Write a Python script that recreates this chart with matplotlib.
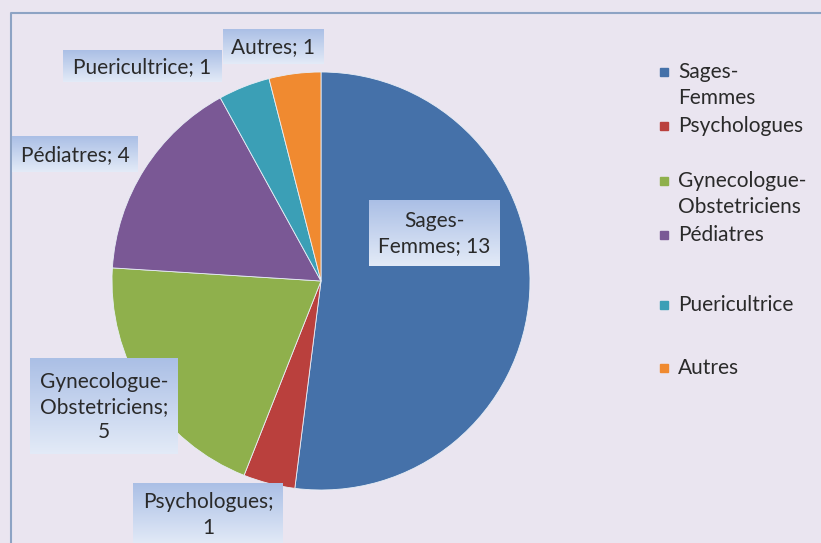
import numpy as np
import matplotlib
matplotlib.use('Agg')
import matplotlib.pyplot as plt
from matplotlib.patches import Rectangle

plt.rcParams['font.family'] = ['Lato', 'DejaVu Sans']

# data
categories = ['Sages-Femmes', 'Psychologues', 'Gynecologue-Obstetriciens',
              'Pédiatres', 'Puericultrice', 'Autres']
values = [13, 1, 5, 4, 1, 1]
slice_labels = ['Sages-\nFemmes; 13', 'Psychologues;\n1', 'Gynecologue-\nObstetriciens;\n5',
                'Pédiatres; 4', 'Puericultrice; 1', 'Autres; 1']
legend_labels = ['Sages-\nFemmes', 'Psychologues', 'Gynecologue-\nObstetriciens',
                 'Pédiatres', 'Puericultrice', 'Autres']

colors = ['#4571A9', '#BA403D', '#8FB04C', '#7A5895', '#3B9FB6', '#F08A30']
BG = '#EAE5F0'
W, H = 821, 543

# label boxes in image pixels: (x0, y0, x1, y1)
label_boxes = [(369, 200, 500, 266), (133, 483, 283, 545), (30, 358, 178, 454),
               (12, 136, 138, 172), (63, 50, 222, 82), (223, 29, 323, 64)]
legend_y = [85, 126, 194, 235, 305, 368]


def fy(y):
    return H - y


fig = plt.figure(figsize=(W / 100, H / 100), dpi=100)
fig.patch.set_facecolor(BG)
ax = fig.add_axes([0, 0, 1, 1])

# chart border (left + top)
ax.plot([11, 11, W + 5], [fy(H + 5), fy(13), fy(13)], color='#8DA3C4', lw=1.5, zorder=1)

ax.pie(values, colors=colors, startangle=90, counterclock=False,
       center=(321, fy(281)), radius=209, frame=True,
       wedgeprops=dict(edgecolor='#E8EEF6', linewidth=0.6))

# gradient label boxes
grad = np.linspace(0, 1, 64).reshape(-1, 1)
top = np.array([0.67, 0.75, 0.90])
bot = np.array([0.89, 0.92, 0.97])
img = top + (bot - top) * grad[..., None]
for (x0, y0, x1, y1), txt in zip(label_boxes, slice_labels):
    ax.imshow(img, extent=(x0, x1, fy(y1), fy(y0)), aspect='auto',
              origin='upper', zorder=3, interpolation='bilinear')
    ax.text((x0 + x1) / 2, fy((y0 + y1) / 2) - 1, txt, ha='center', va='center',
            fontsize=15, color='#2A2A2A', linespacing=1.32, zorder=4)

# legend
for y, lab, c in zip(legend_y, legend_labels, colors):
    first_line = y if '\n' not in lab else y - 13
    ax.add_patch(Rectangle((660, fy(first_line) - 4), 8, 8, color=c, zorder=3))
    ax.text(678, fy(y), lab, ha='left', va='center', fontsize=15,
            color='#2A2A2A', linespacing=1.32, zorder=4)

ax.set_xlim(0, W)
ax.set_ylim(0, H)
ax.set_aspect('equal')
ax.axis('off')

fig.savefig('out.png', dpi=100, facecolor=BG)
